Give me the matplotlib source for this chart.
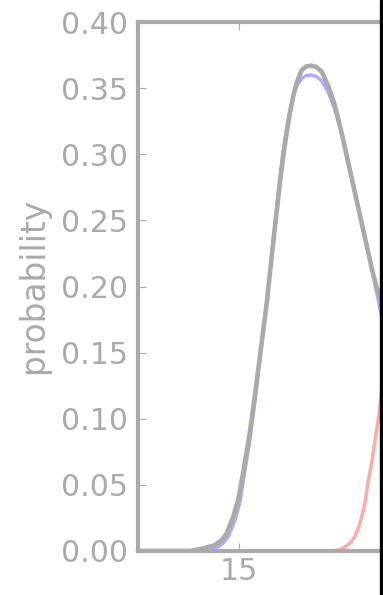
import matplotlib
matplotlib.use("Agg")
import matplotlib.pyplot as plt
from matplotlib.patches import Rectangle

# mixture fit: first component, second component and the overall curve
x_comp1 = [12.000, 13.544, 14.079, 14.376, 14.554, 14.688, 14.881, 15.029, 15.163, 15.326,
           15.460, 15.579, 15.704, 15.822, 15.906, 16.001, 16.099, 16.197, 16.292, 16.396,
           16.500, 16.603, 16.722, 16.871, 16.990, 17.138, 17.287, 17.456, 17.652, 17.821,
           17.949, 18.080, 18.198, 18.296, 18.394, 18.495, 18.593, 18.721, 18.840, 18.959,
           19.090, 19.218]
p_comp1 = [0.0, 0.0, 0.001, 0.003, 0.0065, 0.011, 0.023, 0.037, 0.058, 0.084,
           0.110, 0.136, 0.163, 0.189, 0.2095, 0.2325, 0.256, 0.279, 0.299, 0.317,
           0.332, 0.3435, 0.352, 0.3575, 0.3595, 0.360, 0.359, 0.3555, 0.3465, 0.3355,
           0.3245, 0.312, 0.2984, 0.2872, 0.276, 0.2644, 0.2532, 0.2386, 0.225, 0.211,
           0.195, 0.179]

x_comp2 = [12.000, 15.000, 17.791, 17.999, 18.148, 18.296, 18.445, 18.593, 18.742, 18.831,
           18.950, 19.069, 19.158, 19.277]
p_comp2 = [0.0, 0.0, 0.0, 0.001, 0.003, 0.006, 0.011, 0.021, 0.036, 0.052,
           0.068, 0.089, 0.103, 0.130]

x_total = [12.000, 13.544, 13.939, 14.287, 14.486, 14.634, 14.830, 14.979, 15.127, 15.306,
           15.445, 15.573, 15.704, 15.831, 15.920, 16.018, 16.119, 16.217, 16.315, 16.416,
           16.514, 16.612, 16.713, 16.862, 16.990, 17.138, 17.287, 17.456, 17.652, 17.821,
           17.949, 18.080, 18.198, 18.296, 18.394, 18.495, 18.593, 18.721, 18.840, 18.959,
           19.090, 19.218]
p_total = [0.0, 0.0, 0.002, 0.0045, 0.0083, 0.0134, 0.026, 0.039, 0.060, 0.087,
           0.1125, 0.1375, 0.1635, 0.189, 0.2105, 0.2335, 0.2565, 0.279, 0.299, 0.3165,
           0.3315, 0.344, 0.354, 0.3636, 0.3663, 0.367, 0.3661, 0.3625, 0.3515, 0.339,
           0.3265, 0.3126, 0.299, 0.2878, 0.2766, 0.265, 0.2538, 0.2392, 0.2256, 0.212,
           0.199, 0.190]

y_ticks = [0.00, 0.05, 0.10, 0.15, 0.20, 0.25, 0.30, 0.35, 0.40]
x_ticks = [15]

W, H = 383, 595
fig = plt.figure(figsize=(W / 100, H / 100), dpi=100)

# axes run off the right side of the figure
px_per_unit = 33.67
ax_w = 10 * px_per_unit
ax = fig.add_axes([138 / W, (H - 551) / H, ax_w / W, (551 - 22) / H])

grey = "#aaaaaa"
ax.plot(x_comp1, p_comp1, color="#aaaaff", lw=2.3, solid_capstyle="round",
        solid_joinstyle="round")
ax.plot(x_comp2, p_comp2, color="#ffaaaa", lw=2.5, solid_capstyle="round",
        solid_joinstyle="round")
ax.plot(x_total, p_total, color=grey, lw=3.3, solid_capstyle="round",
        solid_joinstyle="round")

ax.set_xlim(12, 22)
ax.set_ylim(0, 0.40)
ax.set_yticks(y_ticks)
ax.set_yticklabels([f"{v:.2f}" for v in y_ticks])
ax.set_xticks(x_ticks)

for s in ax.spines.values():
    s.set_color(grey)
    s.set_linewidth(3)

ax.tick_params(direction="in", length=6, width=0.8, color=grey,
               labelcolor=grey, labelsize=21.6, top=True, right=True, pad=7)
ax.tick_params(axis="x", pad=4)

fig.text(33.5 / W, 1 - 285 / H, "probability", rotation=90, ha="center",
         va="center", color=grey, fontsize=23.6)

fig.patches.append(Rectangle((379.5 / W, 0), 1, 1, transform=fig.transFigure,
                             color="black", zorder=10))

fig.savefig("out.png", dpi=100)
